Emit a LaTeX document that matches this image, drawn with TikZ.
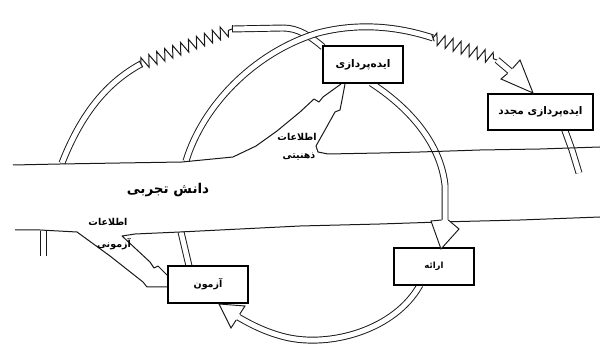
\documentclass[tikz,border=0pt]{standalone}
\usepackage{fontspec}
\usetikzlibrary{decorations.pathmorphing}
\newfontfamily\arabicfont[Script=Arabic]{DejaVu Sans}
\TeXXeTstate=1
\begin{document}
\begin{tikzpicture}[x=1pt,y=-1pt,
  ln/.style={line width=1pt, draw=black!90, line join=round},
  dbl/.style={draw=black!90, line width=0.95pt, double=white, double distance=5pt},
  zz/.style={draw=black!90, line width=1pt, decorate, decoration={zigzag, segment length=8.5pt, amplitude=6pt}},
  box/.style={draw=black, line width=1.3pt, fill=white, inner sep=0pt, font=\arabicfont\bfseries\fontsize{10.5}{12}\selectfont},
  head/.style={draw=black!90, line width=0.95pt, fill=white, line join=miter},
  lbl/.style={inner sep=0pt, font=\arabicfont\bfseries\fontsize{9.5}{11}\selectfont}]
\useasboundingbox (0,0) rectangle (600,344);

\path (363,64.5) coordinate (ideaC) (540.5,112) coordinate (reC) (434,266.5) coordinate (prC) (208,284.5) coordinate (teC);

% outer arc (left part) with spring
\draw[dbl] (62,163) .. controls (82,112) and (108,82) .. (141,64);
\draw[ln] (139.2,60.8) -- (142.8,67.2);
\draw[zz] (141,64) -- (232,29);
\draw[dbl] (232,29) -- (283,28) .. controls (298,28) and (310,36) .. (323,47);
\draw[ln] (232,25.5) -- (232,32.5);

% inner arc rising over to the spring towards re-ideation
\draw[dbl] (186,161) .. controls (203,105) and (255,52) .. (318,33) .. controls (360,22) and (400,27) .. (433,38);
\draw[ln] (431.8,34.7) -- (434.2,41.3);
\draw[zz] (433,38) -- (497,60);
\draw[dbl] (497,60) -- (510,71);

% below re-ideation box
\draw[dbl] (564,128) -- (572,150) -- (579,173);

% stub of outer arc below the band
\draw[dbl] (43.5,231) -- (43.5,256);

% ideation -> presentation
\draw[dbl] (371,83) .. controls (405,105) and (440,140) .. (445,185) -- (445,220);
% presentation -> test
\draw[dbl] (420,285) .. controls (395,330) and (330,348) .. (285,337) .. controls (265,332) and (250,324) .. (238,317);
% test -> band
\draw[dbl] (181,232) -- (189,266);

% band of experiential knowledge (top edge with mental-information flow)
\draw[ln] (13,165) -- (60,164) -- (120,163) -- (182,162) -- (233,157) -- (256,146) -- (277,131) -- (300,112) -- (314,99) -- (319,102) -- (323,97) -- (341,84);
\draw[ln] (345,84) -- (342,100) -- (340,110) -- (335,112) -- (325,130) -- (316,146) -- (318,152) -- (328,154) -- (380,153) -- (420,152) -- (480,150) -- (540,149) -- (600,147);
% bottom edge with test-information flow
\draw[ln] (15,230) -- (40,230) -- (77,232) -- (110,256) -- (143,282) -- (147,287) -- (169,287);
\draw[ln] (169,277) -- (158,266) -- (154,268) -- (150,262) -- (122,236) -- (135,234) -- (180,232) -- (240,229) -- (300,226) -- (380,224) -- (440,222) -- (520,220) -- (600,217);

% boxes
\node[box, minimum width=80pt, minimum height=37pt] (idea) at (ideaC) {\beginR ایده‌پردازی\endR};
\node[box, minimum width=105pt, minimum height=36pt] (reidea) at (reC) {\beginR ایده‌پردازی مجدد\endR};
\node[box, minimum width=80pt, minimum height=37pt, font=\arabicfont\bfseries\fontsize{8.5}{10}\selectfont] (present) at (prC) {\beginR ارائه\endR};
\node[box, minimum width=80pt, minimum height=37pt, font=\arabicfont\bfseries\fontsize{9.5}{11}\selectfont] (test) at (teC) {\beginR آزمون\endR};

% hollow arrow heads
\draw[head] (512.5,68.5) -- (520,60) -- (533,93) -- (501,79) -- (507.5,73.5);
\draw[head] (441.7,220) -- (431,221) -- (441,249) -- (459,229) -- (448.3,220);
\draw[head] (239.8,314) -- (245,306) -- (219,304) -- (231,328) -- (236.2,320);

% labels
\node[lbl, font=\arabicfont\bfseries\fontsize{13.5}{15}\selectfont] (know) at (168,190) {\beginR دانش تجربی\endR};
\node[lbl] (info1) at (297,137) {\beginR اطلاعات\endR};
\node[lbl] (ment) at (299,157) {\beginR ذهنیتی\endR};
\node[lbl] (info2) at (108,222) {\beginR اطلاعات\endR};
\node[lbl] (exam) at (114,244) {\beginR آزمونی\endR};
\end{tikzpicture}
\end{document}
